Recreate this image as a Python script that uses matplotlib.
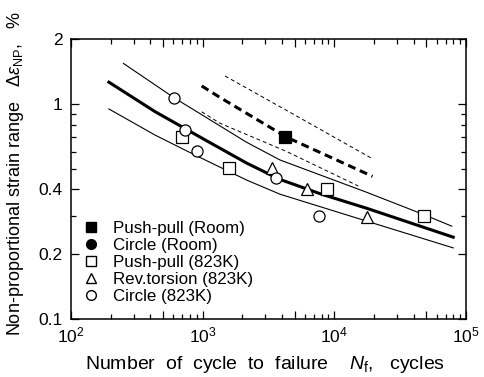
import matplotlib.pyplot as plt
from matplotlib.ticker import FixedLocator, FixedFormatter, NullFormatter
from matplotlib.lines import Line2D

plt.rcParams['font.family'] = ['Liberation Sans', 'DejaVu Sans']
plt.rcParams['mathtext.fontset'] = 'custom'
plt.rcParams['mathtext.rm'] = 'Liberation Sans'
plt.rcParams['mathtext.it'] = 'Liberation Sans:italic'
plt.rcParams['font.size'] = 12

# measured points
pp_room_n = [4220]
pp_room_e = [0.70]
circ_room_n = []
circ_room_e = []
pp_823_n = [693, 1593, 8750, 48200]
pp_823_e = [0.703, 0.503, 0.400, 0.302]
tor_823_n = [3344, 6232, 17600]
tor_823_e = [0.505, 0.402, 0.299]
circ_823_n = [606, 734, 910, 3637, 7690]
circ_823_e = [1.06, 0.755, 0.605, 0.450, 0.301]

# fitted curves (823K)
mean_823_n = [194, 434, 1041, 2160, 3870, 8000, 17600, 80000]
mean_823_e = [1.26, 0.92, 0.68, 0.53, 0.445, 0.38, 0.327, 0.24]
upper_823_n = [250, 606, 1041, 2160, 3870, 17600, 48200, 78000]
upper_823_e = [1.54, 1.067, 0.871, 0.662, 0.548, 0.388, 0.305, 0.27]
lower_823_n = [194, 434, 874, 2160, 3870, 17600, 80000]
lower_823_e = [0.946, 0.716, 0.578, 0.442, 0.38, 0.285, 0.214]

# fitted curves (room temperature)
mean_room_n = [983, 1354, 4347, 19500]
mean_room_e = [1.21, 1.07, 0.699, 0.46]
upper_room_n = [1478, 4500, 19220]
upper_room_e = [1.346, 0.92, 0.558]
lower_room_n = [983, 1354, 4347, 15200]
lower_room_e = [0.918, 0.812, 0.60, 0.415]

fig = plt.figure(figsize=(4.85, 3.77), dpi=100)
ax = fig.add_axes([0.1464, 0.1538, 0.8144, 0.7428])

ax.plot(mean_823_n, mean_823_e, color='black', lw=2.2)
ax.plot(upper_823_n, upper_823_e, color='black', lw=0.8)
ax.plot(lower_823_n, lower_823_e, color='black', lw=0.8)
ax.plot(mean_room_n, mean_room_e, color='black', lw=2.2, dashes=(2.6, 1.6))
ax.plot(upper_room_n, upper_room_e, color='black', lw=0.7, dashes=(4, 3))
ax.plot(lower_room_n, lower_room_e, color='black', lw=0.7, dashes=(4, 3))

mk = dict(ls='none', ms=8, mec='black', mew=0.9, zorder=5)
ax.plot(pp_room_n, pp_room_e, marker='s', mfc='black', **mk)
ax.plot(circ_room_n, circ_room_e, marker='o', mfc='black', **mk)
ax.plot(pp_823_n, pp_823_e, marker='s', mfc='white', **mk)
ax.plot(tor_823_n, tor_823_e, marker='^', mfc='white', **mk)
ax.plot(circ_823_n, circ_823_e, marker='o', mfc='white', **mk)

ax.set_xscale('log')
ax.set_yscale('log')
ax.set_xlim(1e2, 1e5)
ax.set_ylim(0.1, 2)

xmaj = [1e2, 5e2, 1e3, 5e3, 1e4, 5e4, 1e5]
xlab = ['$10^{2}$', '', '$10^{3}$', '', '$10^{4}$', '', '$10^{5}$']
ax.xaxis.set_major_locator(FixedLocator(xmaj))
ax.xaxis.set_major_formatter(FixedFormatter(xlab))
xmin = [m * d for d in (1e2, 1e3, 1e4) for m in (2, 3, 4, 6, 7, 8, 9)]
ax.xaxis.set_minor_locator(FixedLocator(xmin))
ax.xaxis.set_minor_formatter(NullFormatter())

ymaj = [0.1, 0.2, 0.4, 1, 2]
ax.yaxis.set_major_locator(FixedLocator(ymaj))
ax.yaxis.set_major_formatter(FixedFormatter(['0.1', '0.2', '0.4', '1', '2']))
ax.yaxis.set_minor_locator(FixedLocator([0.3, 0.5, 0.6, 0.7, 0.8, 0.9]))
ax.yaxis.set_minor_formatter(NullFormatter())

ax.tick_params(which='both', direction='in', top=True, right=True, width=0.9,
               labelsize=12.5)
ax.tick_params(which='major', length=6)
ax.tick_params(which='minor', length=3.5)
ax.tick_params(axis='y', pad=6)
ax.tick_params(axis='x', pad=5)
for s in ax.spines.values():
    s.set_linewidth(1.1)

ax.set_ylabel('Non-proportional strain range   $\\Delta\\varepsilon_{\\mathrm{NP}}$,   %',
              fontsize=13)
ax.set_xlabel('Number  of  cycle  to  failure    $N_{\\mathrm{f}}$,   cycles', fontsize=14)
ax.yaxis.set_label_coords(-0.113, 0.52)
ax.xaxis.set_label_coords(0.492, -0.125)

handles = [
    Line2D([], [], marker='s', ls='none', mfc='black', mec='black', ms=7),
    Line2D([], [], marker='o', ls='none', mfc='black', mec='black', ms=7),
    Line2D([], [], marker='s', ls='none', mfc='white', mec='black', ms=7),
    Line2D([], [], marker='^', ls='none', mfc='white', mec='black', ms=7),
    Line2D([], [], marker='o', ls='none', mfc='white', mec='black', ms=7),
]
labels = ['Push-pull (Room)', 'Circle (Room)', 'Push-pull (823K)',
          'Rev.torsion (823K)', 'Circle (823K)']
ax.legend(handles, labels, loc='lower left', bbox_to_anchor=(-0.005, 0.01),
          frameon=False, labelspacing=0.13, handletextpad=0.7,
          handlelength=1.2, borderaxespad=0.3, fontsize=12.2)

fig.savefig('out.png', dpi=100)
